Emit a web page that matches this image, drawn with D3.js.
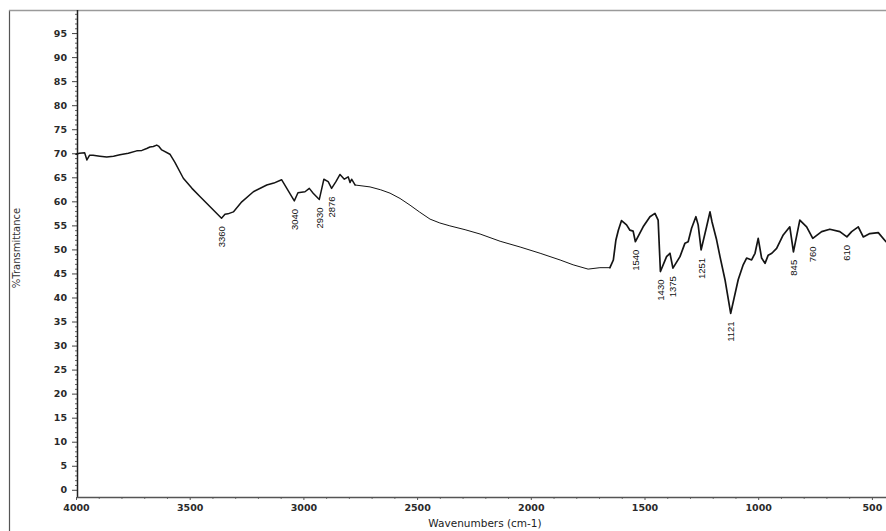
<!DOCTYPE html>
<html>
<head>
<meta charset="utf-8">
<script src="https://cdn.jsdelivr.net/npm/d3@7/dist/d3.min.js"></script>
<style>
  html, body { margin: 0; padding: 0; background: #fff; }
  svg { display: block; }
</style>
</head>
<body>
<svg id="chart" width="886" height="531"></svg>
<script>
// IR spectrum: wavenumber (cm-1) and % transmittance
const wavenumbers = [
  4000, 3985, 3962, 3952, 3940, 3925, 3895, 3865, 3835, 3807, 3770, 3733, 3710, 3689,
  3675, 3660, 3645, 3637, 3623, 3587, 3565, 3528, 3490, 3455, 3396, 3360, 3345, 3332,
  3308, 3271, 3220, 3161, 3130, 3096, 3040, 3024, 2993, 2974, 2957, 2930, 2910, 2891,
  2876, 2857, 2839, 2820, 2803, 2795, 2788, 2773, 2707, 2660, 2619, 2575, 2531, 2490,
  2443, 2400, 2356, 2289, 2223, 2135, 2047, 1959, 1871, 1814, 1748, 1696, 1652, 1637,
  1626, 1615, 1601, 1579, 1564, 1550, 1540, 1506, 1476, 1454, 1440, 1430, 1403, 1388,
  1375, 1344, 1322, 1308, 1293, 1274, 1264, 1251, 1227, 1212, 1203, 1183, 1168, 1146,
  1121, 1088, 1066, 1051, 1029, 1014, 1000, 985, 970, 956, 940, 919, 890, 861, 845,
  817, 787, 760, 721, 685, 641, 610, 589, 560, 538, 509, 472, 438
];
const transmittance = [
  69.8, 70.0, 70.1, 68.6, 69.6, 69.6, 69.4, 69.2, 69.4, 69.7, 70.0, 70.5, 70.6, 71.0,
  71.3, 71.4, 71.7, 71.5, 70.7, 69.8, 68.1, 64.8, 62.7, 61.0, 58.2, 56.5, 57.3, 57.4,
  57.8, 59.9, 62.0, 63.4, 63.8, 64.5, 60.1, 61.8, 62.0, 62.7, 61.7, 60.4, 64.6, 64.1,
  62.7, 64.1, 65.6, 64.6, 65.1, 63.9, 64.6, 63.4, 63.0, 62.4, 61.7, 60.6, 59.2, 57.8,
  56.3, 55.5, 54.9, 54.1, 53.2, 51.7, 50.5, 49.2, 47.8, 46.8, 45.9, 46.2, 46.2, 47.8,
  51.9, 54.0, 56.0, 55.1, 54.0, 53.8, 51.6, 54.7, 56.8, 57.5, 56.1, 45.4, 48.5, 49.2,
  46.1, 48.5, 51.3, 51.6, 54.4, 56.8, 55.1, 49.9, 54.7, 57.8, 55.7, 52.0, 48.5, 43.7,
  36.7, 43.7, 46.8, 48.2, 47.8, 49.2, 52.3, 48.2, 47.1, 48.8, 49.2, 50.2, 53.0, 54.7,
  49.5, 56.1, 54.7, 52.3, 53.7, 54.2, 53.7, 52.6, 53.7, 54.7, 52.6, 53.3, 53.5, 51.6
];

// Labelled absorption bands (cm-1)
const peakLabels = [3360, 3040, 2930, 2876, 1540, 1430, 1375, 1251, 1121, 845, 760, 610];

// Axis ticks
const xTickValues = [4000, 3500, 3000, 2500, 2000, 1500, 1000, 500];
const yTickValues = [0, 5, 10, 15, 20, 25, 30, 35, 40, 45, 50, 55, 60, 65, 70, 75, 80, 85, 90, 95];

const xTitle = "Wavenumbers (cm-1)";
const yTitle = "%Transmittance";

const svg = d3.select("#chart");
const W = 886, H = 531;
const plot = { left: 77, top: 10, right: 886, bottom: 497 };

const x = d3.scaleLinear().domain([4000, 438]).range([76, 886]);
const y = d3.scaleLinear().domain([-1.5, 99.8]).range([plot.bottom, plot.top]);

const tickFont = "DejaVu Sans, sans-serif";

// outer page frame
svg.append("line")
  .attr("x1", 9.5).attr("x2", 9.5).attr("y1", 10).attr("y2", H)
  .attr("stroke", "#555").attr("stroke-width", 1.2);
svg.append("line")
  .attr("x1", 9).attr("x2", W).attr("y1", 10.5).attr("y2", 10.5)
  .attr("stroke", "#9a9a9a").attr("stroke-width", 1.6);

// y axis: major ticks every 5, minor every 1
const yMinor = d3.range(0, 100, 1).filter(v => v % 5 !== 0);
svg.append("g")
  .attr("transform", `translate(${plot.left},0)`)
  .call(d3.axisLeft(y).tickValues(yMinor).tickSize(2).tickFormat(""))
  .call(g => g.select(".domain").remove())
  .call(g => g.selectAll("line").attr("stroke", "#666"));
const yAxis = svg.append("g")
  .attr("transform", `translate(${plot.left},0)`)
  .call(d3.axisLeft(y).tickValues(yTickValues).tickSize(5).tickPadding(5));
yAxis.select(".domain").remove();
yAxis.selectAll("line").attr("stroke", "#444");
yAxis.selectAll("text")
  .attr("font-family", tickFont)
  .attr("font-weight", "bold")
  .attr("font-size", 9.5)
  .attr("fill", "#2a2a2a");
svg.append("line")
  .attr("x1", plot.left + 0.5).attr("x2", plot.left + 0.5)
  .attr("y1", plot.top).attr("y2", plot.bottom + 0.5)
  .attr("stroke", "#222").attr("stroke-width", 1.5);

// x axis: labelled every 500, minor every 100
const xMinor = d3.range(4000, 400, -100).filter(v => v % 500 !== 0);
svg.append("g")
  .attr("transform", `translate(0,${plot.bottom})`)
  .call(d3.axisBottom(x).tickValues(xMinor).tickSize(2).tickFormat(""))
  .call(g => g.select(".domain").remove())
  .call(g => g.selectAll("line").attr("stroke", "#777"));
const xAxis = svg.append("g")
  .attr("transform", `translate(0,${plot.bottom})`)
  .call(d3.axisBottom(x).tickValues(xTickValues).tickSize(3).tickPadding(4).tickFormat(d3.format("d")));
xAxis.select(".domain").remove();
xAxis.selectAll("line").attr("stroke", "#555");
xAxis.selectAll("text")
  .attr("font-family", tickFont)
  .attr("font-weight", "bold")
  .attr("font-size", 9.5)
  .attr("fill", "#2a2a2a");
svg.append("line")
  .attr("x1", plot.left).attr("x2", plot.right)
  .attr("y1", plot.bottom + 0.5).attr("y2", plot.bottom + 0.5)
  .attr("stroke", "#555").attr("stroke-width", 1.4);

// axis titles
svg.append("text")
  .attr("x", 485).attr("y", 527)
  .attr("text-anchor", "middle")
  .attr("font-family", tickFont)
  .attr("font-size", 10.5)
  .attr("fill", "#222")
  .text(xTitle);
svg.append("text")
  .attr("transform", "translate(20,248) rotate(-90)")
  .attr("text-anchor", "middle")
  .attr("font-family", tickFont)
  .attr("font-size", 10)
  .attr("fill", "#333")
  .text(yTitle);

// spectrum trace, drawn heavier where the bands are and lighter across the flat middle stretch
const pts = wavenumbers.map((w, i) => [w, transmittance[i]]);
const line = d3.line().x(d => x(d[0])).y(d => y(d[1]));
const segments = [
  { data: pts.filter(d => d[0] >= 2773), width: 1.5 },
  { data: pts.filter(d => d[0] <= 2773 && d[0] >= 1652), width: 1.0 },
  { data: pts.filter(d => d[0] <= 1652), width: 1.7 }
];
svg.append("g")
  .selectAll("path")
  .data(segments)
  .join("path")
  .attr("d", d => line(d.data))
  .attr("fill", "none")
  .attr("stroke", "#141414")
  .attr("stroke-width", d => d.width)
  .attr("stroke-linejoin", "round")
  .attr("stroke-linecap", "round");

// band labels, placed just beneath each minimum
const valueAt = w => transmittance[wavenumbers.indexOf(w)];
svg.append("g")
  .selectAll("text")
  .data(peakLabels)
  .join("text")
  .attr("transform", d => `translate(${x(d) + 3.5},${y(valueAt(d)) + 8}) rotate(-90)`)
  .attr("text-anchor", "end")
  .attr("font-family", "Liberation Sans, Arial, sans-serif")
  .attr("font-size", 9.5)
  .attr("fill", "#111")
  .text(d => d);
</script>
</body>
</html>
